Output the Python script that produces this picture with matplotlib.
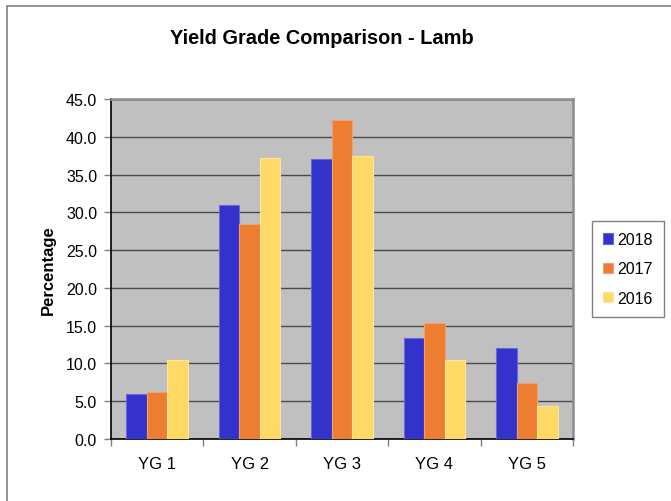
import matplotlib
matplotlib.use("Agg")
import matplotlib.pyplot as plt
import numpy as np
from matplotlib.patches import Rectangle

plt.rcParams['font.family'] = ['Liberation Sans', 'DejaVu Sans']

categories = ["YG 1", "YG 2", "YG 3", "YG 4", "YG 5"]
series_names = ["2018", "2017", "2016"]
v2018 = [6.0, 31.0, 37.1, 13.4, 12.1]
v2017 = [6.2, 28.5, 42.2, 15.4, 7.4]
v2016 = [10.4, 37.2, 37.4, 10.4, 4.4]
yticks = [0, 5, 10, 15, 20, 25, 30, 35, 40, 45]

colors = ["#3333cc", "#ed7d31", "#fed966"]
edges = ["#6666dd", "#f0a070", "#fee39a"]

fig = plt.figure(figsize=(6.71, 5.02), dpi=100)
fig.patch.set_facecolor("white")
# outer chart frame (left/top visible)
fig.add_artist(Rectangle((7/671, -0.05), 1.2, 1 - 7/502 + 0.05, transform=fig.transFigure,
                         fill=False, edgecolor="#808080", linewidth=1.2))

ax = fig.add_axes([111/671, 1 - 440/502, 462/671, 340/502])
ax.set_facecolor("#c0c0c0")

x = np.arange(len(categories))
w = 0.222
for i, (vals, c, e, name) in enumerate(zip([v2018, v2017, v2016], colors, edges, series_names)):
    ax.bar(x + (i - 1) * w, vals, width=w, color=c, edgecolor=e, linewidth=0.8,
           label=name, zorder=3)

ax.set_xlim(-0.5, len(categories) - 0.5)
ax.set_ylim(0, 45)
ax.set_yticks(yticks)
ax.set_yticklabels([f"{v:.1f}" for v in yticks], fontsize=11.5)
ax.yaxis.grid(True, color="#4a4a4a", linewidth=1.0, zorder=1)
ax.set_axisbelow(True)

ax.set_xticks(x)
ax.set_xticklabels(categories, fontsize=12)
ax.tick_params(axis='x', length=0, pad=12)
ax.set_xticks(np.arange(-0.5, len(categories), 1.0), minor=True)
ax.tick_params(axis='x', which='minor', length=5, color="#808080", width=1)
ax.tick_params(axis='y', length=5, color="#808080", width=1, pad=5)

for s in ["left", "bottom"]:
    ax.spines[s].set_color("black")
    ax.spines[s].set_linewidth(1.2)
for s in ["top", "right"]:
    ax.spines[s].set_color("#8c8c8c")
    ax.spines[s].set_linewidth(1.8)

ax.set_ylabel("Percentage", fontsize=12, fontweight="bold", labelpad=7)

fig.text(322/671, 1 - 39/502, "Yield Grade Comparison - Lamb", fontsize=14.4,
         fontweight="bold", ha="center", va="center")

leg = fig.legend(loc="center", bbox_to_anchor=(628/671, 1 - 270/502), fontsize=11.5,
                 frameon=True, fancybox=False, edgecolor="#808080", framealpha=1,
                 handlelength=0.6, handleheight=0.6, handletextpad=0.3,
                 labelspacing=0.9, borderpad=0.7)
leg.get_frame().set_linewidth(1.0)

fig.savefig("out.png", dpi=100)
